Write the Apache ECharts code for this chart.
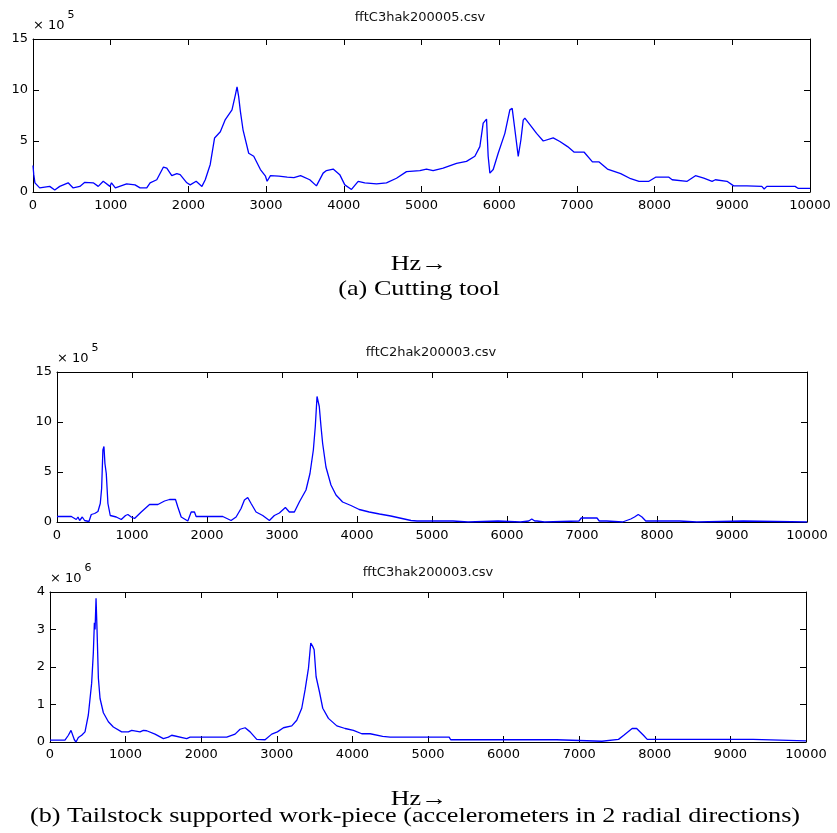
<!DOCTYPE html>
<html>
<head>
<meta charset="utf-8">
<script src="https://cdn.jsdelivr.net/npm/echarts@6/dist/echarts.min.js"></script>
<style>
  html, body { margin: 0; padding: 0; background: #fff; }
  #chart { width: 837px; height: 833px; }
</style>
</head>
<body>
<div id="chart"></div>
<script>
// Spectrum (a): cutting tool, amplitude in units of 1e5
var freq1 = [0, 10, 25, 86, 215, 280, 344, 452, 517, 603, 667, 775, 840, 904, 990, 1010, 1025, 1060, 1205, 1313,
  1378, 1464, 1507, 1593, 1679, 1722, 1786, 1851, 1894, 1980, 2023, 2100, 2174, 2217, 2281, 2337, 2411, 2475, 2561, 2604,
  2626, 2647, 2669, 2703, 2776, 2841, 2927, 2992, 3013, 3056, 3164, 3272, 3358, 3444, 3562, 3648, 3734, 3777, 3863, 3948,
  4013, 4099, 4185, 4270, 4421, 4549, 4678, 4807, 4979, 5064, 5150, 5279, 5451, 5579, 5687, 5751, 5794, 5837, 5858, 5880,
  5923, 5987, 6073, 6137, 6167, 6202, 6245, 6279, 6309, 6330, 6395, 6481, 6567, 6695, 6781, 6880, 6966, 7094, 7200, 7286,
  7393, 7564, 7692, 7799, 7927, 8013, 8184, 8226, 8419, 8526, 8633, 8740, 8782, 8932, 9017, 9188, 9380, 9410, 9444, 9808,
  9850, 10000];
var amp1 = [2.6, 1.7, 0.9, 0.4, 0.55, 0.2, 0.55, 0.9, 0.4, 0.55, 0.95, 0.9, 0.55, 1.05, 0.55, 0.9, 0.9, 0.4, 0.8, 0.7,
  0.4, 0.4, 0.9, 1.2, 2.45, 2.35, 1.6, 1.8, 1.7, 0.9, 0.7, 1.05, 0.55, 1.2, 2.7, 5.3, 5.9, 7.1, 8.05, 9.5,
  10.3, 9.35, 7.9, 6.1, 3.8, 3.5, 2.2, 1.55, 1.05, 1.6, 1.55, 1.45, 1.4, 1.6, 1.2, 0.6, 1.85, 2.1, 2.25, 1.7,
  0.7, 0.25, 1.05, 0.9, 0.8, 0.9, 1.35, 2.0, 2.1, 2.25, 2.1, 2.35, 2.8, 3.0, 3.5, 4.45, 6.75, 7.15, 3.5, 1.85,
  2.2, 3.8, 5.75, 8.05, 8.2, 6.1, 3.5, 5.1, 7.05, 7.25, 6.6, 5.75, 5.0, 5.3, 4.95, 4.45, 3.9, 3.9, 2.95, 2.95,
  2.25, 1.8, 1.3, 1.05, 1.05, 1.45, 1.45, 1.2, 1.05, 1.6, 1.35, 1.05, 1.2, 1.05, 0.6, 0.6, 0.55, 0.3, 0.55, 0.55,
  0.35, 0.35];

// Spectrum (b), first radial accelerometer, amplitude in units of 1e5
var freq2 = [0, 191, 257, 280, 302, 337, 368, 426, 457, 502, 546, 577, 595, 612, 626, 639, 657, 679, 710, 790,
  857, 914, 945, 990, 1034, 1123, 1234, 1345, 1434, 1500, 1580, 1611, 1656, 1744, 1789, 1833, 1855, 1877, 1900, 2210,
  2321, 2388, 2454, 2499, 2543, 2588, 2654, 2743, 2832, 2898, 2965, 3045, 3098, 3165, 3231, 3320, 3373, 3418, 3444, 3467,
  3480, 3497, 3520, 3542, 3586, 3653, 3720, 3808, 3919, 4030, 4163,
  4300, 4450, 4600, 4720, 4800, 5280, 5300, 5480, 5500, 5880, 5900, 6180, 6200, 6290, 6330, 6370, 6400, 6420, 6500, 6520,
  6960, 6990, 7200, 7230, 7330, 7350, 7540, 7560, 7650, 7700, 7750, 7800, 7850, 8300, 8320, 8530, 8550, 9150, 9170, 10000];
var amp2 = [0.55, 0.55, 0.25, 0.5, 0.15, 0.5, 0.15, 0.05, 0.75, 0.85, 1.05, 1.85, 3.35, 7.2, 7.55, 5.85, 4.85, 1.85, 0.65, 0.5,
  0.25, 0.65, 0.75, 0.5, 0.35, 1.0, 1.75, 1.75, 2.1, 2.25, 2.25, 1.5, 0.5, 0.1, 1.0, 1.0, 0.55, 0.65, 0.55, 0.55,
  0.15, 0.5, 1.35, 2.2, 2.45, 1.85, 1.0, 0.65, 0.15, 0.65, 0.9, 1.45, 1.0, 1.0, 2.0, 3.2, 4.85, 7.2, 9.55, 12.55,
  12.6, 11.55, 9.55, 7.85, 5.5, 3.7, 2.7, 2.0, 1.65, 1.25, 1.0,
  0.8, 0.6, 0.35, 0.15, 0.1, 0.1, 0, 0, 0.1, 0.1, 0, 0, 0.1, 0.1, 0.3, 0.1, 0.1, 0, 0, 0.1,
  0.1, 0.4, 0.4, 0.1, 0.1, 0, 0, 0.1, 0.3, 0.5, 0.75, 0.5, 0.1, 0.1, 0, 0, 0.1, 0.1, 0, 0];

// Spectrum (b), second radial accelerometer, amplitude in units of 1e6
var freq3 = [0, 198, 243, 278, 300, 322, 344, 375, 419, 463, 507, 551, 573, 587, 596, 609, 622, 640, 662, 706,
  772, 838, 948, 1036, 1081, 1191, 1235, 1279, 1389, 1500, 1566, 1610, 1632, 1808, 1853, 2338, 2448, 2514, 2581, 2647,
  2735, 2845, 2933, 3008, 3088, 3198, 3264, 3330, 3374, 3419, 3449, 3475, 3494, 3520, 3564, 3608, 3683, 3794, 3904, 4014,
  4124, 4235, 4400, 4500, 4800, 5280, 5300, 6700, 6720, 7300, 7320, 7520, 7590, 7700, 7760, 7850, 7900, 9300, 9320, 10000];
var amp3 = [0.05, 0.05, 0.18, 0.31, 0.27, 0.06, 0.0, 0.12, 0.18, 0.27, 0.72, 1.57, 2.37, 3.18, 3.0, 3.83, 3.0, 1.7, 1.16, 0.78,
  0.54, 0.4, 0.27, 0.27, 0.31, 0.27, 0.31, 0.3, 0.21, 0.09, 0.13, 0.18, 0.13, 0.09, 0.13, 0.13, 0.21, 0.34, 0.38, 0.27,
  0.07, 0.06, 0.21, 0.27, 0.38, 0.43, 0.58, 0.9, 1.39, 1.97, 2.64, 2.55, 2.46, 1.74, 1.34, 0.9, 0.63, 0.43, 0.36, 0.31,
  0.22, 0.22, 0.15, 0.13, 0.13, 0.13, 0.06, 0.06, 0.02, 0.02, 0.07, 0.07, 0.18, 0.36, 0.36, 0.18, 0.07, 0.07, 0.03, 0.03];

var plotTitles = ['fftC3hak200005.csv', 'fftC2hak200003.csv', 'fftC3hak200003.csv'];
var exponents = ['5', '5', '6'];
var yMax = [15, 15, 4];
var yStep = [5, 5, 1];
var xMax = 10000;
var xStep = 1000;
var xLabel = 'Hz\u2192';
var captionA = '(a) Cutting tool';
var captionB = '(b) Tailstock supported work-piece (accelerometers in 2 radial directions)';

function zip(xs, ys) {
  return xs.map(function (x, i) { return [x, ys[i]]; });
}

var TICK_FONT = '"DejaVu Sans", sans-serif';
var SERIF = '"Liberation Serif", "Times New Roman", serif';

var grids = [
  { left: 33, top: 39, width: 777, height: 153, labelMargin: 7 },
  { left: 57, top: 372, width: 750, height: 150, labelMargin: 7 },
  { left: 50, top: 592, width: 756, height: 150, labelMargin: 6 }
];
var titleCenters = [[420, 11], [431, 346], [428, 566]];

var xAxes = [], yAxes = [], series = [], titles = [];
var datasets = [zip(freq1, amp1), zip(freq2, amp2), zip(freq3, amp3)];

function plain(v) { return String(v); }

grids.forEach(function (g, i) {
  var frame = { show: true, onZero: false, lineStyle: { color: '#000', width: 1 } };
  var ticks = { show: true, inside: true, length: 6, lineStyle: { color: '#000', width: 1 } };
  xAxes.push({
    gridIndex: i, type: 'value', position: 'bottom', min: 0, max: xMax, interval: xStep,
    axisLine: frame, axisTick: ticks, splitLine: { show: false },
    axisLabel: { color: '#000', fontSize: 13, fontFamily: TICK_FONT, margin: g.labelMargin, formatter: plain }
  });
  xAxes.push({
    gridIndex: i, type: 'value', position: 'top', min: 0, max: xMax, interval: xStep,
    axisLine: frame, axisTick: ticks, splitLine: { show: false }, axisLabel: { show: false }
  });
  yAxes.push({
    gridIndex: i, type: 'value', position: 'left', min: 0, max: yMax[i], interval: yStep[i],
    axisLine: frame, axisTick: ticks, splitLine: { show: false },
    axisLabel: { color: '#000', fontSize: 13, fontFamily: TICK_FONT, margin: 5, formatter: plain },
    name: '{b|\u00d7 10}{s|' + exponents[i] + '}',
    nameLocation: 'end',
    nameGap: 6,
    nameTextStyle: {
      align: 'left', verticalAlign: 'bottom',
      rich: {
        b: { fontSize: 13, fontFamily: TICK_FONT, color: '#000', padding: [10, 0, 0, 0], verticalAlign: 'bottom' },
        s: { fontSize: 11, fontFamily: TICK_FONT, color: '#000', padding: [0, 0, 0, 3], verticalAlign: 'top' }
      }
    }
  });
  yAxes.push({
    gridIndex: i, type: 'value', position: 'right', min: 0, max: yMax[i], interval: yStep[i],
    axisLine: frame, axisTick: ticks, splitLine: { show: false }, axisLabel: { show: false }
  });
  series.push({
    type: 'line', xAxisIndex: 2 * i, yAxisIndex: 2 * i, data: datasets[i],
    showSymbol: false, symbol: 'none', smooth: false,
    lineStyle: { color: '#0000ff', width: 1.3 }
  });
  titles.push({
    text: plotTitles[i], left: titleCenters[i][0], top: titleCenters[i][1], textAlign: 'center', padding: 0,
    textStyle: { fontSize: 13, fontWeight: 'normal', fontFamily: TICK_FONT, color: '#111' }
  });
});

function caption(text, cx, cy) {
  return {
    type: 'text', x: cx, y: cy, scaleX: 1.19,
    style: {
      text: text, fontSize: 22, fontFamily: SERIF, fill: '#000',
      align: 'center', verticalAlign: 'middle', textAlign: 'center', textVerticalAlign: 'middle'
    }
  };
}

var chart = echarts.init(document.getElementById('chart'), null, { renderer: 'canvas' });
chart.setOption({
  backgroundColor: '#fff',
  animation: false,
  title: titles,
  grid: grids.map(function (g) { return { left: g.left, top: g.top, width: g.width, height: g.height, containLabel: false }; }),
  xAxis: xAxes,
  yAxis: yAxes,
  series: series,
  graphic: [
    caption(xLabel, 419, 264),
    caption(captionA, 419, 289),
    caption(xLabel, 419, 799),
    caption(captionB, 415, 816)
  ]
});
</script>
</body>
</html>
